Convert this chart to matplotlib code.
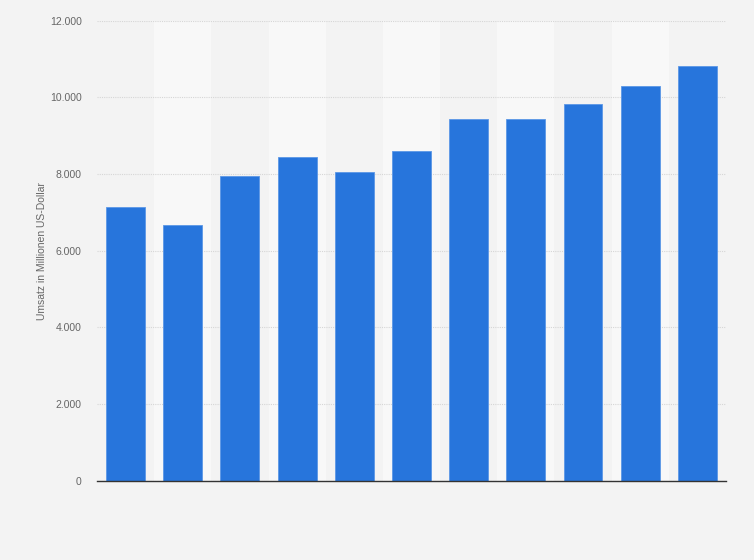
import matplotlib.pyplot as plt
from matplotlib.ticker import FuncFormatter

plt.rcParams['font.family'] = ['Liberation Sans', 'DejaVu Sans']

# Umsatz in Millionen US-Dollar (11 Jahre, keine Achsenbeschriftung sichtbar)
categories = list(range(11))
revenue = [7130, 6660, 7940, 8440, 8050, 8590, 9430, 9430, 9820, 10290, 10810]
y_ticks = [0, 2000, 4000, 6000, 8000, 10000, 12000]

bg = '#f3f3f3'
band = '#f8f8f8'
bar_color = '#2775dc'

fig = plt.figure(figsize=(7.54, 5.6), dpi=100, facecolor=bg)
ax = fig.add_axes([0.1286, 0.1416, 0.8342, 0.8214])
ax.set_facecolor(bg)

# alternating column bands
for i in categories:
    if i % 2 == 1:
        ax.axvspan(i - 0.5, i + 0.5, color=band, zorder=0, lw=0)

ax.bar(categories, revenue, width=0.68, color=bar_color,
       edgecolor='#5b97e6', linewidth=0.6, zorder=3)

ax.set_xlim(-0.5, len(categories) - 0.5)
ax.set_ylim(0, 12000)
ax.set_yticks(y_ticks)
ax.yaxis.set_major_formatter(FuncFormatter(lambda v, p: f'{int(v):,}'.replace(',', '.')))
ax.set_xticks([])

ax.grid(axis='y', color='#d6d6d6', linestyle=(0, (1, 1)), linewidth=0.8, zorder=1)
for s in ['top', 'right', 'left']:
    ax.spines[s].set_visible(False)
ax.spines['bottom'].set_color('#333333')
ax.spines['bottom'].set_linewidth(1.0)
ax.spines['bottom'].set_zorder(4)

ax.tick_params(axis='y', length=0, pad=11, labelsize=7.5, labelcolor='#666666')
ax.set_ylabel('Umsatz in Millionen US-Dollar', fontsize=7.5, color='#666666', labelpad=2)

fig.savefig('out.png', dpi=100, facecolor=bg)
